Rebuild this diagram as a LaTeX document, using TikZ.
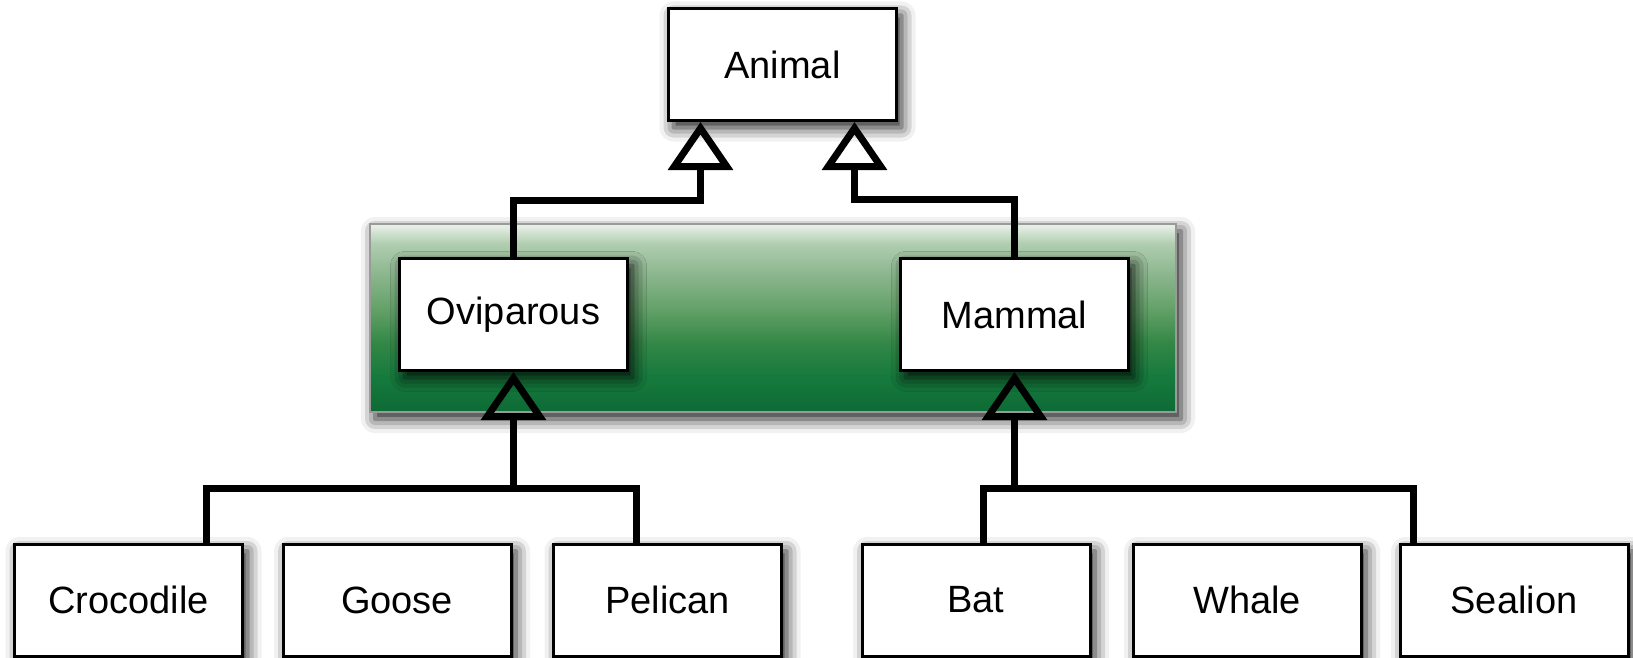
\documentclass[tikz,border=0pt]{standalone}
\usepackage{fontspec}
\setmainfont{Liberation Sans}
\usetikzlibrary{arrows.meta,calc,shadows.blur}

% colours of the shaded panel, bottom to top
\definecolor{pg0}{HTML}{0E6C36}
\definecolor{pg1}{HTML}{167A3D}
\definecolor{pg2}{HTML}{338747}
\definecolor{pg3}{HTML}{62A068}
\definecolor{pg4}{HTML}{88B48A}
\definecolor{pg5}{HTML}{B0CDB0}
\definecolor{pg6}{HTML}{E6EFE6}
\definecolor{panelrim}{HTML}{9A9A9A}

\pgfdeclareverticalshading{panelgreen}{100bp}{%
  color(0bp)=(pg0); color(25.8bp)=(pg0); color(34.5bp)=(pg1);
  color(43.4bp)=(pg2); color(52.1bp)=(pg3); color(60.8bp)=(pg4);
  color(69.8bp)=(pg5); color(74.5bp)=(pg6); color(100bp)=(pg6)}

\tikzset{
  softshadow/.style={blur shadow={shadow xshift=2.5pt, shadow yshift=-3.5pt,
      shadow blur radius=7pt, shadow opacity=90}},
  classbox/.style={draw, line width=1.5pt, fill=white, inner sep=0pt,
      minimum width=114pt, minimum height=56pt,
      font=\fontsize{19}{23}\selectfont, softshadow},
  panel/.style={draw=panelrim, line width=1.3pt, shading=panelgreen,
      inner sep=0pt, minimum width=403pt, minimum height=94pt, softshadow},
  link/.style={line width=3.5pt, line join=miter},
  inherit/.style={link, -{Triangle[open, length=24pt, width=32pt]}},
}

\begin{document}
\begin{tikzpicture}[x=0.5pt, y=-0.5pt]
  \useasboundingbox (0,0) rectangle (1633,658);

  % grouping panel behind the middle level
  \node[panel] (grp) at (773,318) {};

  % class boxes
  \node[classbox] (animal) at (782.5,64.5) {Animal};
  \node[classbox] (ovi)    at (513.5,314.5) {Oviparous};
  \node[classbox] (mam)    at (1014.5,314.5) {Mammal};

  \node[classbox] (croc)  at (128.5,600) {Crocodile};
  \node[classbox] (goose) at (397,600)   {Goose};
  \node[classbox] (pel)   at (667.5,600) {Pelican};
  \node[classbox] (bat)   at (976,600)   {Bat};
  \node[classbox] (whale) at (1247,600)  {Whale};
  \node[classbox] (seal)  at (1514,600)  {Sealion};

  % middle level to Animal
  \draw[inherit] (ovi.north) |- ($(animal.south)+(-82,78)$)
                 -- ($(animal.south)+(-82,0)$);
  \draw[inherit] (mam.north) |- ($(animal.south)+(72,77)$)
                 -- ($(animal.south)+(72,0)$);

  % oviparous children
  \coordinate (ovibar) at ($(ovi.south)+(0,116)$);
  \draw[inherit] (ovibar) -- (ovi.south);
  \draw[link] ($(croc.north)+(78,0)$) |- (ovibar) -| ($(pel.north)+(-31,0)$);
  \draw[link] ($(goose.north)+(25,0)$) -- ($(goose.north)+(25,0)$ |- ovibar);

  % mammal children
  \coordinate (mambar) at ($(mam.south)+(0,116)$);
  \draw[inherit] (mambar) -- (mam.south);
  \draw[link] ($(bat.north)+(7,0)$) |- (mambar) -| ($(seal.north)+(-101,0)$);
  \draw[link] ($(whale.north)+(-49,0)$) -- ($(whale.north)+(-49,0)$ |- mambar);
\end{tikzpicture}
\end{document}
